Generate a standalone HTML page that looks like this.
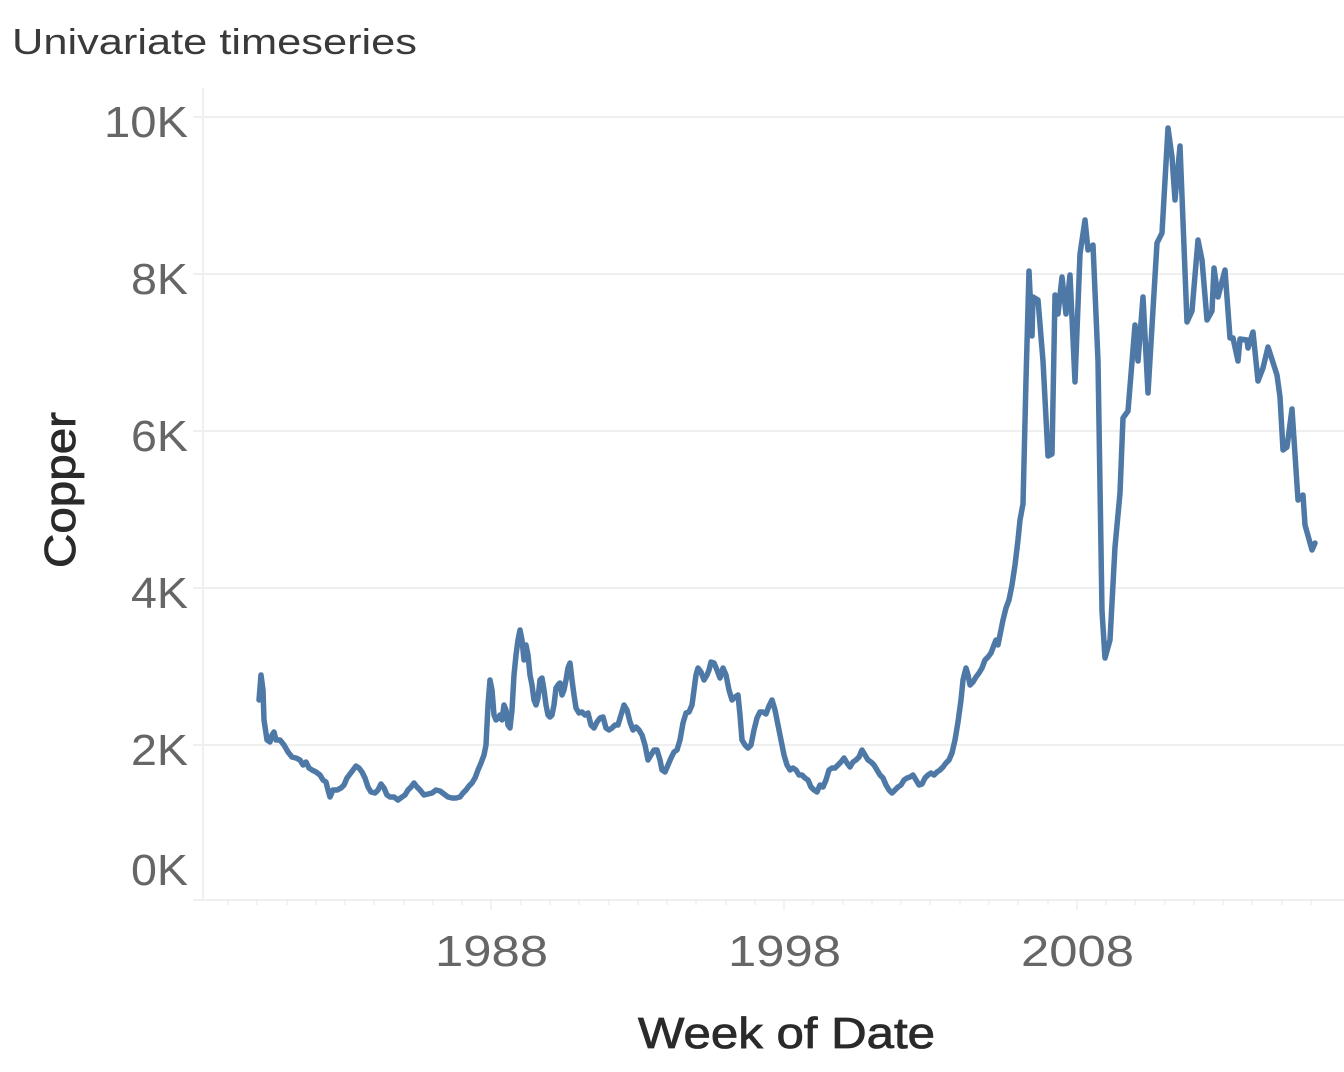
<!DOCTYPE html>
<html><head><meta charset="utf-8"><style>
html,body{margin:0;padding:0;background:#fff;}
svg{display:block;}
text{font-family:"Liberation Sans",sans-serif;}
</style></head><body>
<svg width="1344" height="1072" viewBox="0 0 1344 1072" xmlns="http://www.w3.org/2000/svg">
<text x="12" y="54" font-size="36" fill="#3a3a3a" textLength="405" lengthAdjust="spacingAndGlyphs">Univariate timeseries</text>
<g stroke="#efefef" stroke-width="2">
<line x1="193" y1="117" x2="1344" y2="117"/>
<line x1="193" y1="274" x2="1344" y2="274"/>
<line x1="193" y1="431" x2="1344" y2="431"/>
<line x1="193" y1="588" x2="1344" y2="588"/>
<line x1="193" y1="745" x2="1344" y2="745"/>
<line x1="193" y1="900" x2="1344" y2="900"/>
<line x1="203" y1="88" x2="203" y2="900"/>
</g>
<g stroke="#e4e4e4" stroke-width="1">
<line x1="228" y1="900" x2="228" y2="905"/><line x1="257" y1="900" x2="257" y2="905"/><line x1="287" y1="900" x2="287" y2="905"/><line x1="316" y1="900" x2="316" y2="905"/><line x1="345" y1="900" x2="345" y2="905"/><line x1="374" y1="900" x2="374" y2="905"/><line x1="404" y1="900" x2="404" y2="905"/><line x1="433" y1="900" x2="433" y2="905"/><line x1="462" y1="900" x2="462" y2="905"/><line x1="491" y1="900" x2="491" y2="910"/><line x1="521" y1="900" x2="521" y2="905"/><line x1="550" y1="900" x2="550" y2="905"/><line x1="579" y1="900" x2="579" y2="905"/><line x1="609" y1="900" x2="609" y2="905"/><line x1="638" y1="900" x2="638" y2="905"/><line x1="667" y1="900" x2="667" y2="905"/><line x1="696" y1="900" x2="696" y2="905"/><line x1="726" y1="900" x2="726" y2="905"/><line x1="755" y1="900" x2="755" y2="905"/><line x1="784" y1="900" x2="784" y2="910"/><line x1="813" y1="900" x2="813" y2="905"/><line x1="843" y1="900" x2="843" y2="905"/><line x1="872" y1="900" x2="872" y2="905"/><line x1="901" y1="900" x2="901" y2="905"/><line x1="930" y1="900" x2="930" y2="905"/><line x1="960" y1="900" x2="960" y2="905"/><line x1="989" y1="900" x2="989" y2="905"/><line x1="1018" y1="900" x2="1018" y2="905"/><line x1="1048" y1="900" x2="1048" y2="905"/><line x1="1077" y1="900" x2="1077" y2="910"/><line x1="1106" y1="900" x2="1106" y2="905"/><line x1="1135" y1="900" x2="1135" y2="905"/><line x1="1165" y1="900" x2="1165" y2="905"/><line x1="1194" y1="900" x2="1194" y2="905"/><line x1="1223" y1="900" x2="1223" y2="905"/><line x1="1252" y1="900" x2="1252" y2="905"/><line x1="1282" y1="900" x2="1282" y2="905"/><line x1="1311" y1="900" x2="1311" y2="905"/>
</g>
<g font-size="44" fill="#666">
<text x="104" y="137" textLength="84" lengthAdjust="spacingAndGlyphs">10K</text>
<text x="131" y="294" textLength="57" lengthAdjust="spacingAndGlyphs">8K</text>
<text x="131" y="451" textLength="57" lengthAdjust="spacingAndGlyphs">6K</text>
<text x="131" y="608" textLength="57" lengthAdjust="spacingAndGlyphs">4K</text>
<text x="131" y="765" textLength="57" lengthAdjust="spacingAndGlyphs">2K</text>
<text x="131" y="885" textLength="57" lengthAdjust="spacingAndGlyphs">0K</text>
</g>
<g font-size="44" fill="#666">
<text x="435" y="966" textLength="113" lengthAdjust="spacingAndGlyphs">1988</text>
<text x="728" y="966" textLength="113" lengthAdjust="spacingAndGlyphs">1998</text>
<text x="1021" y="966" textLength="113" lengthAdjust="spacingAndGlyphs">2008</text>
</g>
<text x="638" y="1048" font-size="44" fill="#2a2a2a" stroke="#2a2a2a" stroke-width="0.8" textLength="297" lengthAdjust="spacingAndGlyphs">Week of Date</text>
<text transform="translate(75,568) rotate(-90)" font-size="44" fill="#2a2a2a" stroke="#2a2a2a" stroke-width="0.8" textLength="156" lengthAdjust="spacingAndGlyphs">Copper</text>
<polyline fill="none" stroke="#4e79a7" stroke-width="5.5" stroke-linejoin="round" stroke-linecap="round" points="259,700 261,675 263,690 264,720 267,740 270,742 272,735 274,732 276,740 280,740 284,745 288,752 292,757 296,758 300,760 303,765 306,762 309,768 312,770 316,772 320,775 323,780 326,782 328,790 330,797 333,790 337,790 341,788 344,785 347,778 350,774 353,770 356,766 359,768 362,772 365,778 368,787 371,792 375,793 378,790 381,784 384,788 387,795 390,797 394,797 398,800 402,797 405,795 408,790 411,787 414,783 417,787 420,790 424,795 428,794 432,793 436,790 440,791 444,794 448,797 452,798 456,798 460,797 463,793 466,790 469,786 472,783 475,778 478,770 481,763 484,755 486,745 488,705 490,680 492,690 494,715 496,720 498,718 500,715 502,720 504,705 506,710 508,725 510,728 512,710 514,675 516,655 518,640 520,630 522,640 524,660 526,645 528,655 530,675 532,685 534,700 536,705 538,698 540,680 542,678 544,690 546,705 548,715 550,717 552,715 554,705 556,688 558,685 560,683 562,695 564,690 566,680 568,668 570,663 572,680 574,695 576,708 579,713 582,712 585,715 588,713 591,725 594,728 597,722 600,718 603,717 606,728 609,730 612,728 615,725 618,725 621,715 624,705 627,710 630,722 633,730 636,727 639,730 642,735 645,745 648,760 651,755 654,750 657,750 660,760 662,770 665,772 668,765 671,758 674,752 677,750 680,740 683,723 686,713 689,712 692,705 694,690 696,675 698,668 701,672 704,680 707,675 709,670 711,662 714,663 717,670 720,678 723,668 726,675 729,690 732,700 735,697 738,695 740,715 742,740 745,745 748,748 751,745 754,730 757,718 760,712 763,712 766,714 769,706 772,700 775,710 778,725 781,740 784,755 787,765 790,770 793,768 796,770 799,775 802,775 805,778 808,780 811,787 814,790 817,792 820,785 823,787 826,780 829,770 832,768 835,768 838,765 841,762 844,758 847,763 850,767 853,762 856,760 859,757 862,750 865,755 868,760 871,762 874,765 877,770 880,775 883,778 886,785 889,790 892,793 895,790 898,787 901,785 904,780 907,778 910,777 913,775 916,780 919,785 922,784 925,778 928,775 931,773 934,775 937,772 940,770 943,767 946,763 949,760 952,753 955,740 958,722 961,700 963,680 966,668 968,675 970,685 973,682 976,677 979,673 982,668 985,660 988,657 991,653 994,645 996,640 998,645 1000,635 1003,620 1006,608 1009,600 1012,585 1015,565 1018,540 1020,520 1023,504 1026,380 1029,271 1032,336 1033,297 1038,300 1043,361 1048,456 1052,454 1055,295 1058,314 1062,277 1066,314 1070,275 1075,382 1080,254 1085,220 1088,250 1093,245 1098,361 1102,611 1105,658 1110,640 1115,547 1120,493 1123,418 1128,411 1135,325 1138,361 1143,297 1148,393 1157,243 1162,233 1168,128 1172,157 1175,200 1180,146 1187,322 1192,311 1198,240 1202,260 1207,320 1212,311 1214,268 1218,297 1225,270 1230,338 1233,338 1238,361 1240,339 1247,340 1248,348 1253,332 1258,381 1263,368 1268,347 1277,375 1280,397 1283,450 1287,447 1292,409 1298,500 1303,495 1305,525 1312,550 1315,543"/>
</svg>
</body></html>
